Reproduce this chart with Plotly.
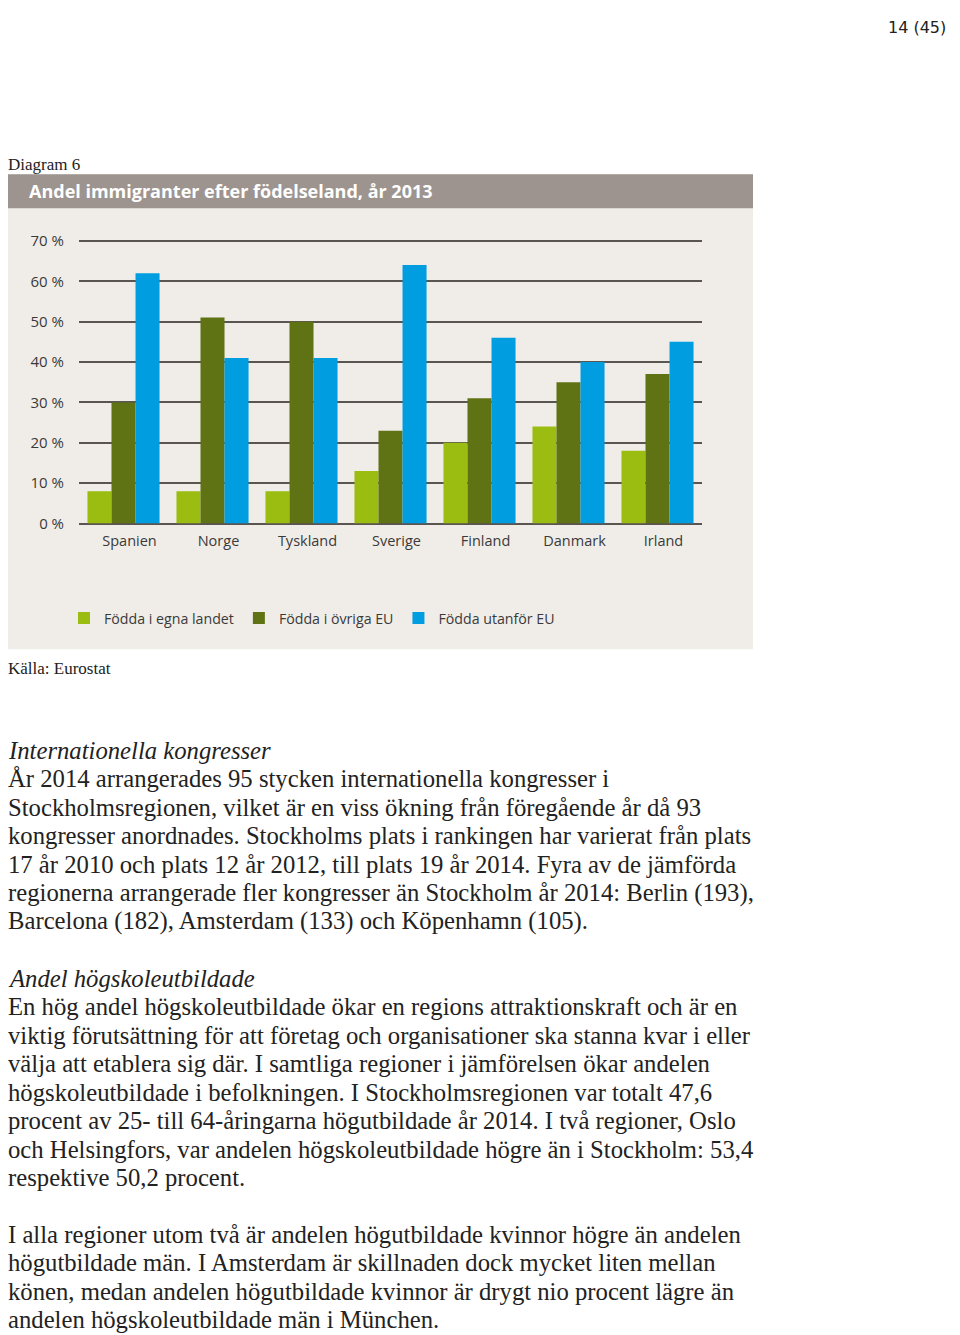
import plotly.graph_objects as go

# Browser body margin is 8px; the captured page is also slightly compressed
# vertically, so reference y positions are converted with a measured factor.
OFF = 8
W, H = 944, 1335
SY, AY = 0.987, 9.0

countries = ["Spanien", "Norge", "Tyskland", "Sverige", "Finland", "Danmark", "Irland"]
fodda_egna = [8, 8, 8, 13, 20, 24, 18]
fodda_ovriga_eu = [30, 51, 50, 23, 31, 35, 37]
fodda_utanfor_eu = [62, 41, 41, 64, 46, 40, 45]
series_names = ["Födda i egna landet", "Födda i övriga EU", "Födda utanför EU"]
series_colors = ["#9bbd12", "#5f7214", "#009ee0"]
tick_vals = [0, 10, 20, 30, 40, 50, 60, 70]
tick_text = ["0 %", "10 %", "20 %", "30 %", "40 %", "50 %", "60 %", "70 %"]

chart_title = "Andel immigranter efter födelseland, år 2013"
page_no = "14 (45)"
diagram_label = "Diagram 6"
source_label = "Källa: Eurostat"

para1 = [
    "<i>Internationella kongresser</i>",
    "År 2014 arrangerades 95 stycken internationella kongresser i",
    "Stockholmsregionen, vilket är en viss ökning från föregående år då 93",
    "kongresser anordnades. Stockholms plats i rankingen har varierat från plats",
    "17 år 2010 och plats 12 år 2012, till plats 19 år 2014. Fyra av de jämförda",
    "regionerna arrangerade fler kongresser än Stockholm år 2014: Berlin (193),",
    "Barcelona (182), Amsterdam (133) och Köpenhamn (105).",
]
para2 = [
    "<i>Andel högskoleutbildade</i>",
    "En hög andel högskoleutbildade ökar en regions attraktionskraft och är en",
    "viktig förutsättning för att företag och organisationer ska stanna kvar i eller",
    "välja att etablera sig där. I samtliga regioner i jämförelsen ökar andelen",
    "högskoleutbildade i befolkningen. I Stockholmsregionen var totalt 47,6",
    "procent av 25- till 64-åringarna högutbildade år 2014. I två regioner, Oslo",
    "och Helsingfors, var andelen högskoleutbildade högre än i Stockholm: 53,4",
    "respektive 50,2 procent.",
]
para3 = [
    "I alla regioner utom två är andelen högutbildade kvinnor högre än andelen",
    "högutbildade män. I Amsterdam är skillnaden dock mycket liten mellan",
    "könen, medan andelen högutbildade kvinnor är drygt nio procent lägre än",
    "andelen högskoleutbildade män i München.",
]

def px_x(x):
    return (x - OFF) / W

def px_y(y):
    fig_y = (y - AY) / SY - OFF
    return 1 - fig_y / H

fig = go.Figure()
for name, vals, col in zip(series_names, [fodda_egna, fodda_ovriga_eu, fodda_utanfor_eu], series_colors):
    fig.add_trace(go.Bar(x=countries, y=vals, name=name, marker=dict(color=col, line=dict(width=0))))

chart_font = "Open Sans, Noto Sans, sans-serif"
grid_col = "#5a5551"
txt_col = "#3a3a3a"

# y: 0 % at 524.3 px, 70 % at 241.7 px; a little headroom so the 70 % grid line shows
px_per_unit = (524.3 - 241.7) / 70
y_top = 70.6
fig.update_layout(
    width=W, height=H,
    margin=dict(l=0, r=0, t=0, b=0),
    paper_bgcolor="white",
    plot_bgcolor="rgba(0,0,0,0)",
    barmode="group",
    bargap=0.19,
    bargroupgap=0,
    font=dict(family=chart_font, size=14, color=txt_col),
    xaxis=dict(
        domain=[px_x(79), px_x(702)],
        showgrid=False, showline=False, ticks="",
        tickfont=dict(family=chart_font, size=14.5, color=txt_col),
        ticklabelshift=6, ticklabelstandoff=7,
        fixedrange=True,
    ),
    yaxis=dict(
        domain=[px_y(524.3), px_y(524.3 - y_top * px_per_unit)],
        range=[0, y_top],
        tickmode="array",
        tickvals=tick_vals,
        ticktext=tick_text,
        showgrid=True, gridcolor=grid_col, gridwidth=1.6,
        zeroline=True, zerolinecolor=grid_col, zerolinewidth=1.6,
        showline=False, ticks="",
        ticklabelstandoff=14,
        tickfont=dict(family=chart_font, size=15, color=txt_col),
        fixedrange=True,
    ),
    legend=dict(
        orientation="h",
        x=px_x(64), xanchor="left",
        y=px_y(619), yanchor="middle",
        bgcolor="rgba(0,0,0,0)",
        font=dict(family=chart_font, size=14.2, color=txt_col),
        itemclick=False, itemdoubleclick=False,
    ),
    showlegend=True,
)

# Chart panel background and title band
fig.add_shape(type="rect", xref="paper", yref="paper",
              x0=px_x(5), x1=px_x(753), y0=px_y(650), y1=px_y(175),
              fillcolor="#f0ede9", line=dict(width=0), layer="below")
fig.add_shape(type="rect", xref="paper", yref="paper",
              x0=px_x(5), x1=px_x(753), y0=px_y(209), y1=px_y(175),
              fillcolor="#9d948f", line=dict(width=0), layer="below")

serif = "Liberation Serif, Times New Roman, serif"
anns = [
    dict(text=f"<b>{chart_title}</b>", x=px_x(27), y=px_y(192), xanchor="left", yanchor="middle",
         font=dict(family=chart_font, size=18, color="white")),
    dict(text=page_no, x=px_x(948), y=1.0, xanchor="right", yanchor="top",
         font=dict(family="DejaVu Sans, sans-serif", size=16, color="#222")),
    dict(text=diagram_label, x=px_x(6), y=px_y(165), xanchor="left", yanchor="middle",
         font=dict(family=serif, size=17, color="#222")),
    dict(text=source_label, x=px_x(6), y=px_y(669), xanchor="left", yanchor="middle",
         font=dict(family=serif, size=17, color="#222")),
]
line_h = 28.45
for lines, y0 in [(para1, 751), (para2, 979), (para3, 1235)]:
    for i, ln in enumerate(lines):
        anns.append(dict(text=ln, x=px_x(6), y=px_y(y0 + i * line_h), xanchor="left", yanchor="middle",
                         align="left", font=dict(family=serif, size=24.7, color="#222")))
for a in anns:
    a.update(xref="paper", yref="paper", showarrow=False)
fig.update_layout(annotations=anns)

fig.write_html("out.html", config={"displayModeBar": False})
